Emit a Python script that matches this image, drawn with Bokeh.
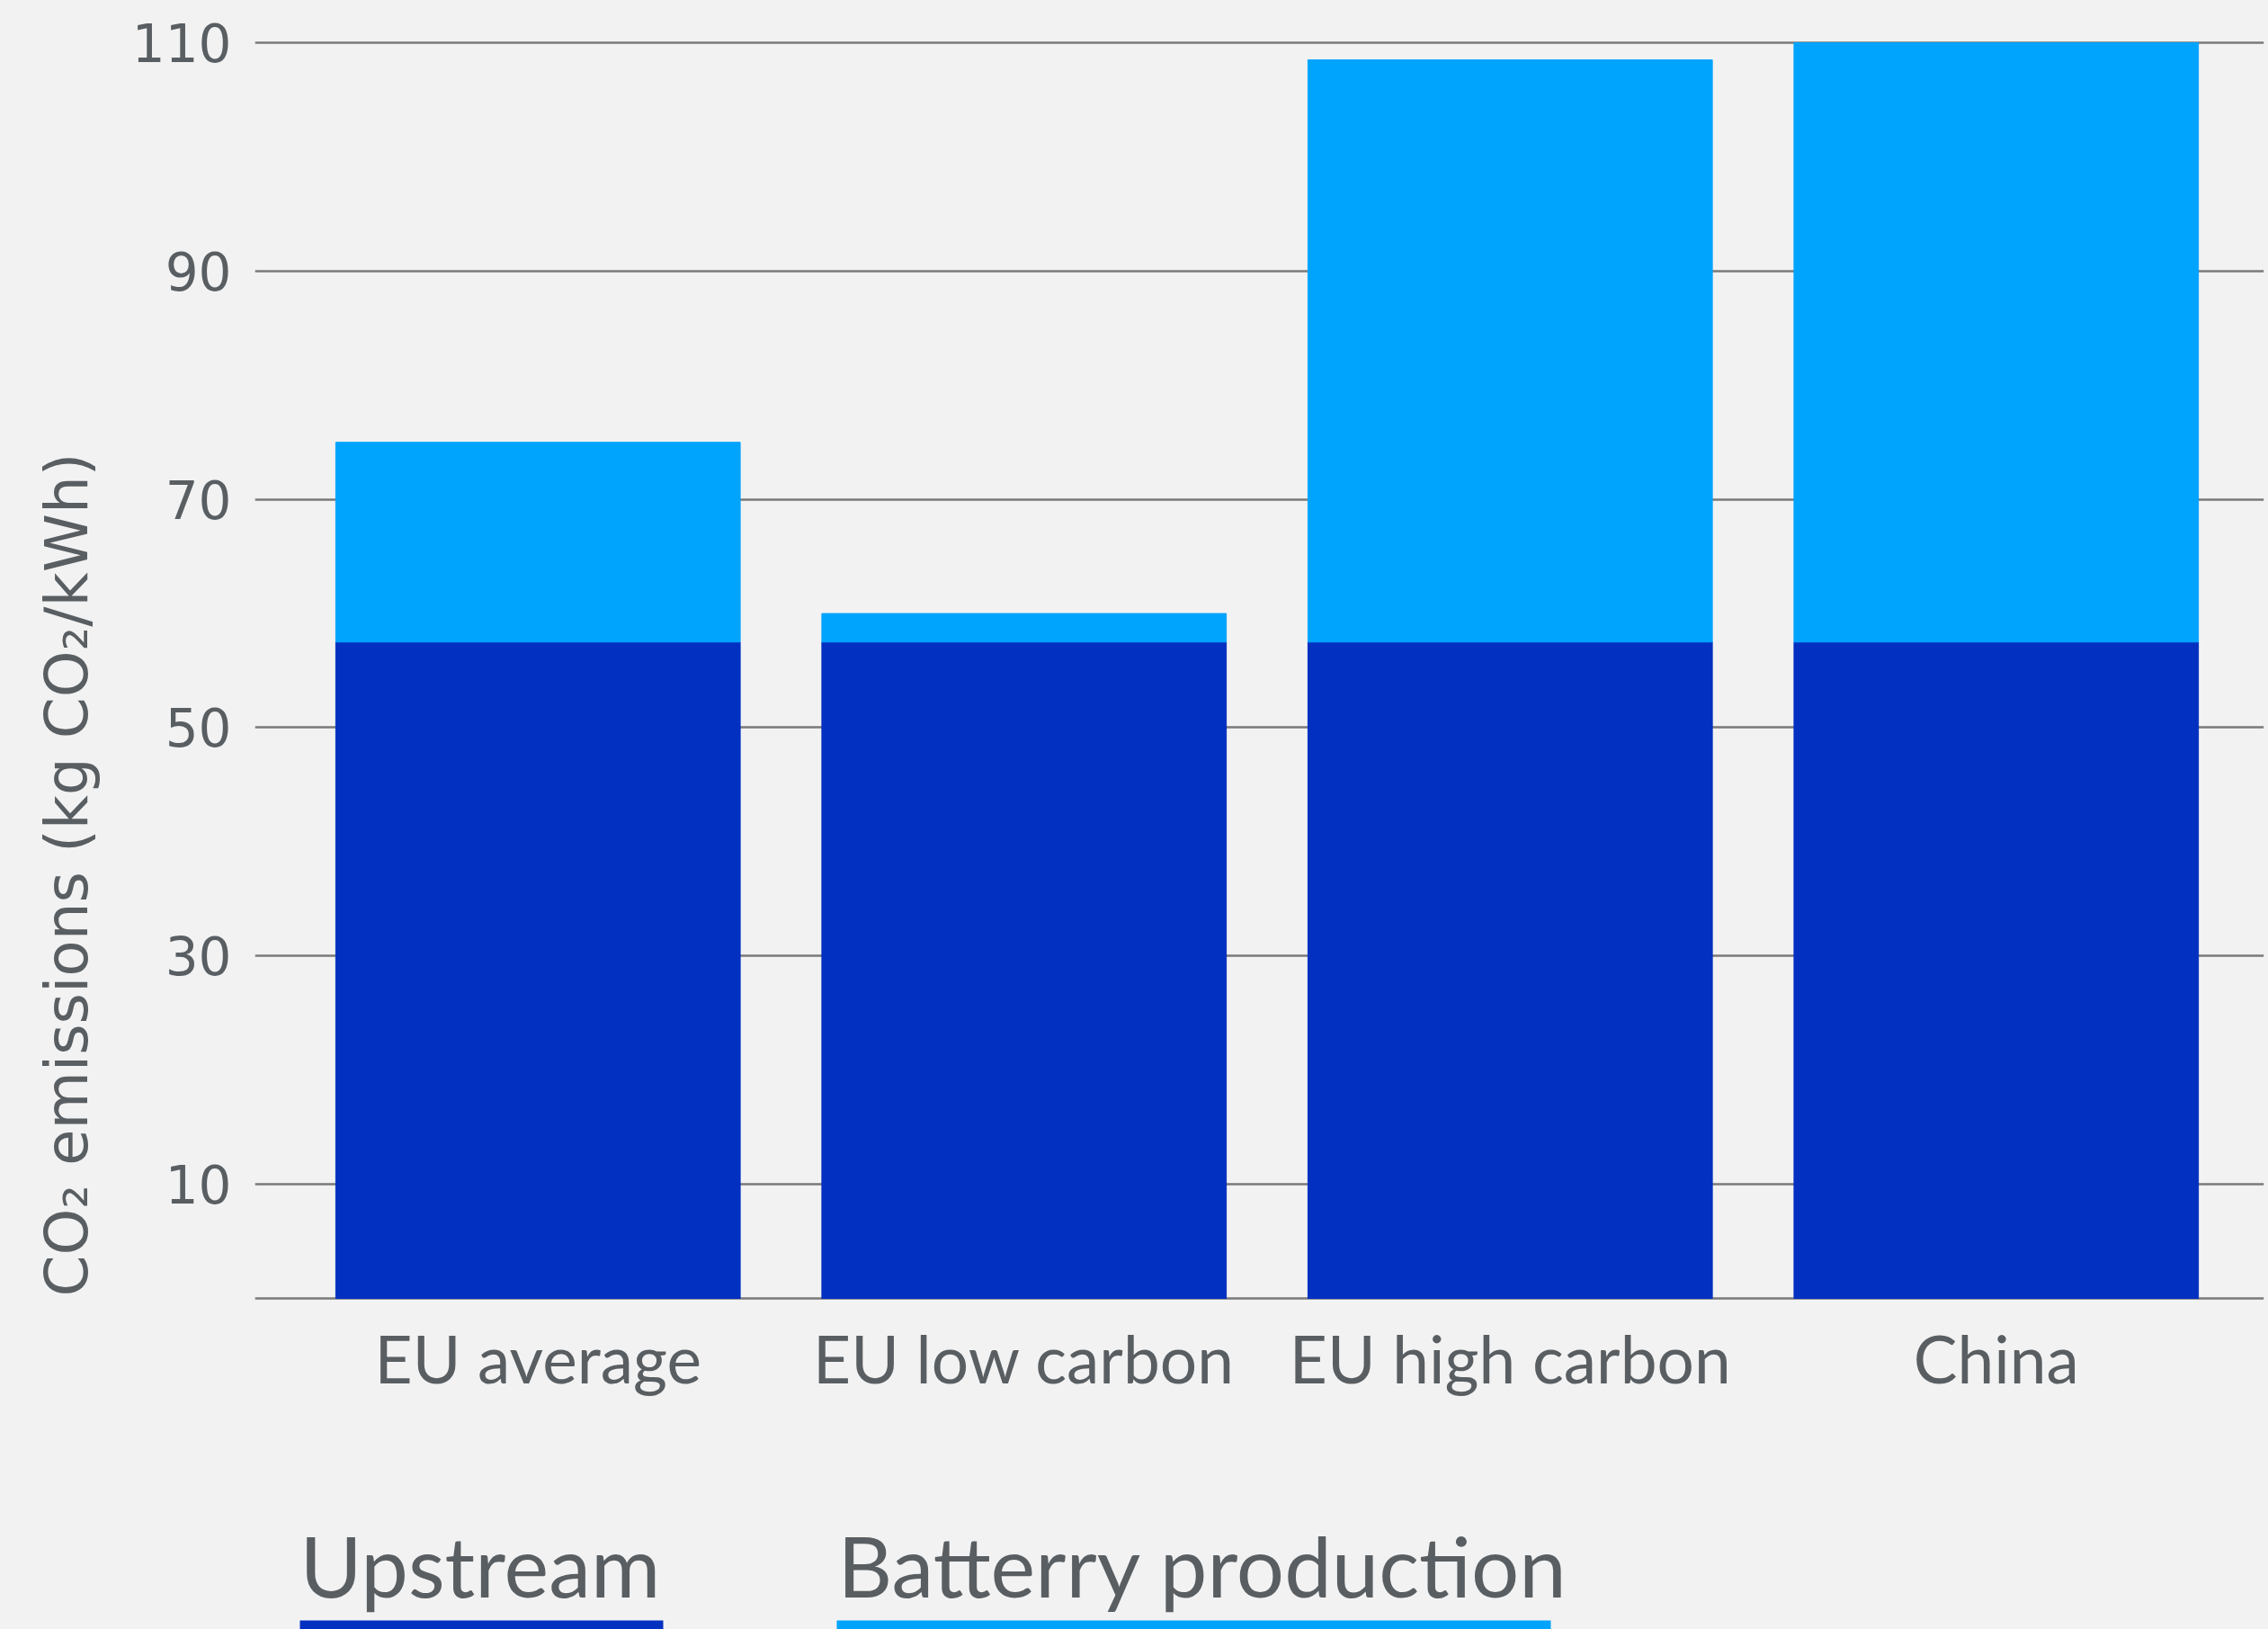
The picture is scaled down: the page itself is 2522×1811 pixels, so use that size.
from bokeh.plotting import figure
from bokeh.models import ColumnDataSource, FixedTicker, Range1d, Title
from bokeh.layouts import column
from bokeh.core.properties import value
from bokeh.embed import file_html
from bokeh.resources import INLINE

# ---- data ----
categories = ["EU average", "EU low carbon", "EU high carbon", "China"]
upstream = [57.5, 57.5, 57.5, 57.5]
battery_production = [17.5, 2.5, 51.0, 52.5]
y_ticks = [10, 30, 50, 70, 90, 110]
series_keys = ["upstream", "battery"]
series_names = ["Upstream", "Batterry production"]
y_title = "CO\u2082 emissions (kg CO\u2082/kWh)"

# ---- styles ----
BG = "#f2f2f2"
TEXT = "#595e62"
GRID = "#7a7a7a"
colors = ["#0230c1", "#00a4fd"]
W = 2522
H_MAIN = 1600
H_LEG = 1811 - H_MAIN
BORDER_L = 283
BORDER_R = 5

x_pos = list(range(len(categories)))
src = ColumnDataSource(dict(x=x_pos, upstream=upstream, battery=battery_production))

p = figure(width=W, height=H_MAIN,
           x_range=Range1d(-0.5823, 3.5508), y_range=Range1d(-0.16, 110.16),
           output_backend="svg", toolbar_location=None,
           min_border_top=45, min_border_left=BORDER_L, min_border_right=BORDER_R,
           min_border_bottom=155)
p.background_fill_color = BG
p.border_fill_color = BG
p.outline_line_color = None

p.vbar_stack(series_keys, x="x", width=0.832, color=colors, source=src)

p.xgrid.visible = False
p.ygrid.ticker = FixedTicker(ticks=[0] + y_ticks)
p.ygrid.grid_line_color = GRID
p.ygrid.grid_line_width = 2.5

ya = p.yaxis[0]
ya.ticker = FixedTicker(ticks=y_ticks)
ya.axis_line_color = None
ya.major_tick_line_color = None
ya.minor_tick_line_color = None
ya.major_label_text_font = "DejaVu Sans"
ya.major_label_text_font_size = "58px"
ya.major_label_text_color = TEXT
ya.major_label_standoff = 20

# vertical axis title, starting at the bottom of the plot area
ytitle = Title(text=y_title, align="left", offset=4, standoff=62,
               text_font="DejaVu Sans", text_font_size="66px",
               text_font_style="normal", text_color=TEXT)
p.add_layout(ytitle, "left")

xa = p.xaxis[0]
xa.ticker = FixedTicker(ticks=x_pos)
xa.major_label_overrides = {i: c for i, c in enumerate(categories)}
xa.axis_line_color = None
xa.major_tick_line_color = None
xa.minor_tick_line_color = None
xa.major_label_text_font = "Lato"
xa.major_label_text_font_size = "73px"
xa.major_label_text_color = TEXT
xa.major_label_standoff = 14

# ---- legend panel (coordinates = page pixels; y measured up from page bottom) ----
lf = figure(width=W, height=H_LEG,
            x_range=Range1d(BORDER_L, W - BORDER_R), y_range=Range1d(0, H_LEG),
            output_backend="svg", toolbar_location=None,
            x_axis_location=None, y_axis_location=None,
            min_border_top=0, min_border_bottom=0,
            min_border_left=BORDER_L, min_border_right=BORDER_R)
lf.background_fill_color = BG
lf.border_fill_color = BG
lf.outline_line_color = None
lf.grid.visible = False

legend_text_x = [333, 931]
legend_text_y = [72, 72]
legend_bar_left = [333, 930]
legend_bar_right = [737, 1724]
lf.text(x=legend_text_x, y=legend_text_y, text=series_names,
        text_font=value("Lato"), text_font_size="94px", text_color=TEXT,
        text_baseline="alphabetic", text_align="left")
lf.quad(left=legend_bar_left, right=legend_bar_right, bottom=[-5, -5], top=[10, 10],
        fill_color=colors, line_color=None)

layout = column(p, lf)
layout.background = BG
open("out.html", "w").write(file_html(layout, INLINE))
